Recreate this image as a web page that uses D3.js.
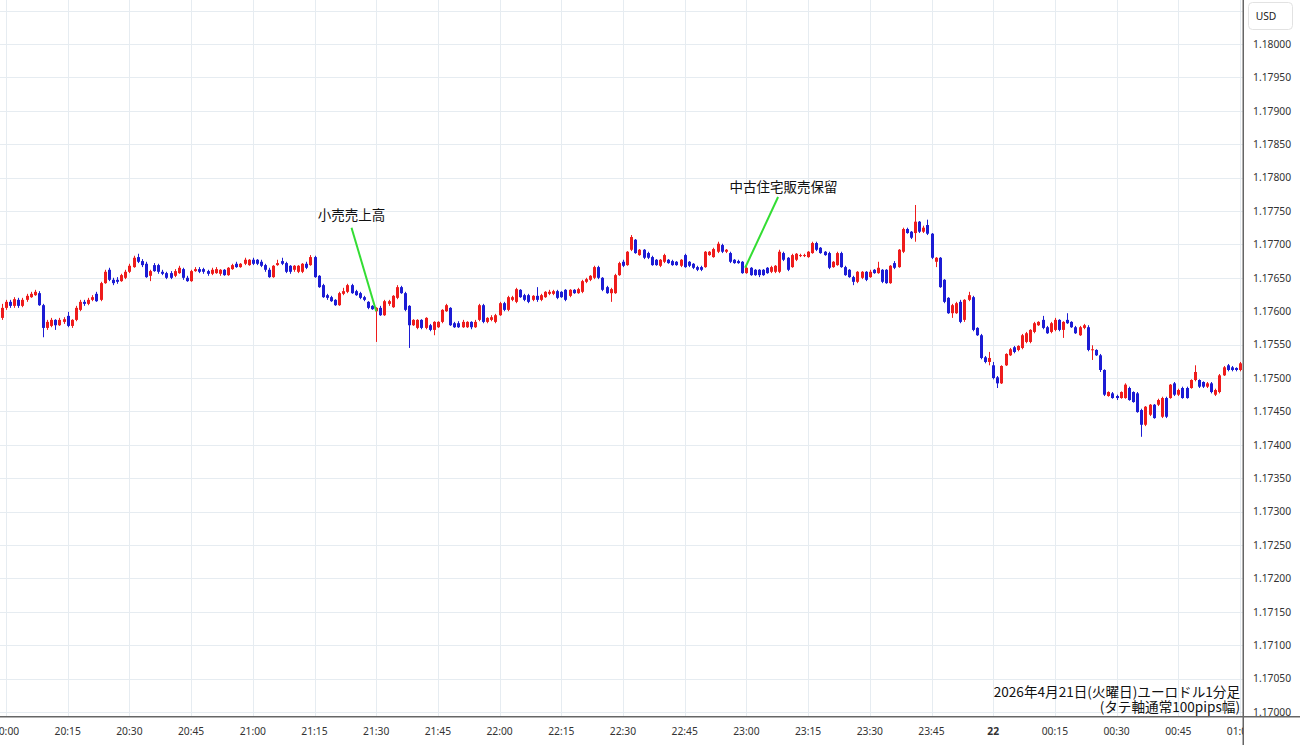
<!DOCTYPE html>
<html><head><meta charset="utf-8">
<script src="https://cdn.jsdelivr.net/npm/d3@7"></script>
<style>body{margin:0;background:#fff;}svg{display:block;}</style>
</head><body>
<svg id="chart" width="1300" height="745"></svg>
<script>
// EUR/USD 1-minute candles, 2026-04-21, first candle = 19:59, then one per minute
const firstMinute = -1; // minutes after 20:00 of the first candle
const opens = [1.17590,1.17605,1.17614,1.17608,1.17617,1.17608,1.17617,1.17621,1.17624,1.17627,
1.17609,1.17575,1.17578,1.17587,1.17579,1.17584,1.17593,1.17578,1.17587,1.17602,
1.17614,1.17611,1.17617,1.17626,1.17617,1.17642,1.17662,1.17647,1.17647,1.17645,
1.17650,1.17659,1.17666,1.17681,1.17675,1.17671,1.17653,1.17669,1.17669,1.17659,
1.17657,1.17657,1.17653,1.17657,1.17663,1.17650,1.17645,1.17660,1.17663,1.17663,
1.17660,1.17656,1.17657,1.17656,1.17662,1.17654,1.17663,1.17671,1.17666,1.17671,
1.17669,1.17677,1.17677,1.17674,1.17669,1.17662,1.17651,1.17669,1.17675,1.17672,
1.17668,1.17662,1.17659,1.17659,1.17671,1.17669,1.17681,1.17653,1.17639,1.17624,
1.17621,1.17617,1.17609,1.17626,1.17629,1.17639,1.17630,1.17627,1.17621,1.17614,
1.17608,1.17600,1.17605,1.17594,1.17611,1.17606,1.17620,1.17636,1.17627,1.17608,
1.17579,1.17575,1.17587,1.17575,1.17579,1.17572,1.17576,1.17584,1.17600,1.17605,
1.17582,1.17582,1.17576,1.17576,1.17584,1.17576,1.17587,1.17609,1.17584,1.17587,
1.17584,1.17594,1.17612,1.17602,1.17617,1.17614,1.17632,1.17624,1.17624,1.17617,
1.17623,1.17617,1.17621,1.17626,1.17626,1.17630,1.17629,1.17632,1.17623,1.17632,
1.17627,1.17629,1.17644,1.17647,1.17650,1.17666,1.17650,1.17636,1.17627,1.17627,
1.17654,1.17674,1.17669,1.17692,1.17707,1.17684,1.17692,1.17687,1.17681,1.17677,
1.17668,1.17674,1.17677,1.17675,1.17674,1.17668,1.17684,1.17674,1.17671,1.17666,
1.17666,1.17666,1.17684,1.17681,1.17689,1.17699,1.17689,1.17687,1.17677,1.17675,
1.17674,1.17657,1.17665,1.17662,1.17662,1.17662,1.17665,1.17659,1.17659,1.17659,
1.17687,1.17680,1.17666,1.17677,1.17683,1.17683,1.17681,1.17687,1.17702,1.17695,
1.17689,1.17687,1.17666,1.17669,1.17687,1.17666,1.17662,1.17651,1.17644,1.17650,
1.17659,1.17651,1.17662,1.17657,1.17662,1.17662,1.17642,1.17672,1.17666,1.17689,
1.17723,1.17719,1.17717,1.17734,1.17719,1.17729,1.17716,1.17674,1.17680,1.17647,
1.17620,1.17597,1.17597,1.17614,1.17587,1.17617,1.17621,1.17575,1.17564,1.17531,
1.17524,1.17519,1.17501,1.17492,1.17519,1.17534,1.17546,1.17542,1.17545,1.17554,
1.17554,1.17569,1.17579,1.17587,1.17576,1.17569,1.17572,1.17587,1.17572,1.17587,
1.17584,1.17576,1.17564,1.17575,1.17576,1.17542,1.17542,1.17534,1.17512,1.17473,
1.17477,1.17473,1.17470,1.17470,1.17485,1.17479,1.17477,1.17452,1.17430,1.17445,
1.17460,1.17460,1.17442,1.17470,1.17470,1.17492,1.17475,1.17485,1.17485,1.17485,
1.17497,1.17497,1.17494,1.17487,1.17492,1.17475,1.17479,1.17504,1.17519,1.17516,
1.17515,1.17512,1.17519];
const highs = [1.17611,1.17617,1.17617,1.17621,1.17620,1.17620,1.17626,1.17629,1.17632,1.17630,
1.17611,1.17587,1.17590,1.17588,1.17590,1.17591,1.17599,1.17588,1.17608,1.17617,
1.17617,1.17620,1.17624,1.17629,1.17644,1.17662,1.17665,1.17650,1.17651,1.17656,
1.17662,1.17671,1.17683,1.17686,1.17678,1.17674,1.17662,1.17672,1.17671,1.17662,
1.17659,1.17660,1.17663,1.17668,1.17665,1.17653,1.17662,1.17666,1.17666,1.17665,
1.17662,1.17665,1.17666,1.17663,1.17663,1.17666,1.17671,1.17674,1.17672,1.17680,
1.17678,1.17680,1.17678,1.17677,1.17671,1.17665,1.17669,1.17677,1.17680,1.17674,
1.17669,1.17669,1.17669,1.17672,1.17674,1.17684,1.17683,1.17654,1.17641,1.17626,
1.17623,1.17618,1.17629,1.17635,1.17641,1.17641,1.17632,1.17629,1.17623,1.17615,
1.17609,1.17606,1.17608,1.17617,1.17617,1.17624,1.17639,1.17638,1.17629,1.17609,
1.17588,1.17588,1.17588,1.17591,1.17581,1.17585,1.17585,1.17603,1.17611,1.17606,
1.17584,1.17585,1.17587,1.17585,1.17585,1.17587,1.17611,1.17611,1.17591,1.17594,
1.17596,1.17614,1.17614,1.17623,1.17623,1.17635,1.17633,1.17626,1.17626,1.17624,
1.17636,1.17626,1.17630,1.17632,1.17632,1.17632,1.17630,1.17633,1.17633,1.17633,
1.17635,1.17647,1.17650,1.17654,1.17668,1.17668,1.17651,1.17638,1.17635,1.17656,
1.17674,1.17677,1.17690,1.17714,1.17708,1.17693,1.17693,1.17689,1.17683,1.17678,
1.17678,1.17686,1.17678,1.17677,1.17675,1.17678,1.17686,1.17675,1.17672,1.17668,
1.17668,1.17690,1.17690,1.17695,1.17704,1.17701,1.17693,1.17689,1.17678,1.17677,
1.17675,1.17668,1.17666,1.17663,1.17663,1.17663,1.17666,1.17668,1.17669,1.17692,
1.17689,1.17681,1.17686,1.17687,1.17686,1.17686,1.17690,1.17704,1.17704,1.17696,
1.17690,1.17689,1.17675,1.17689,1.17689,1.17668,1.17663,1.17653,1.17660,1.17660,
1.17660,1.17662,1.17663,1.17674,1.17663,1.17663,1.17669,1.17675,1.17693,1.17725,
1.17725,1.17720,1.17759,1.17735,1.17728,1.17737,1.17717,1.17681,1.17681,1.17648,
1.17621,1.17611,1.17614,1.17617,1.17618,1.17629,1.17623,1.17576,1.17566,1.17533,
1.17539,1.17524,1.17503,1.17519,1.17537,1.17545,1.17548,1.17549,1.17566,1.17569,
1.17573,1.17584,1.17585,1.17593,1.17578,1.17584,1.17590,1.17588,1.17585,1.17597,
1.17585,1.17578,1.17578,1.17581,1.17579,1.17549,1.17543,1.17536,1.17513,1.17480,
1.17479,1.17475,1.17480,1.17492,1.17487,1.17480,1.17479,1.17454,1.17458,1.17461,
1.17461,1.17469,1.17472,1.17472,1.17491,1.17494,1.17484,1.17487,1.17487,1.17498,
1.17519,1.17498,1.17495,1.17494,1.17494,1.17484,1.17506,1.17518,1.17521,1.17518,
1.17516,1.17524,1.17527];
const lows = [1.17587,1.17602,1.17605,1.17605,1.17605,1.17606,1.17614,1.17620,1.17623,1.17608,
1.17561,1.17572,1.17576,1.17572,1.17578,1.17581,1.17576,1.17575,1.17585,1.17600,
1.17608,1.17609,1.17615,1.17614,1.17615,1.17641,1.17645,1.17639,1.17641,1.17644,
1.17648,1.17657,1.17665,1.17672,1.17666,1.17650,1.17645,1.17659,1.17656,1.17654,
1.17648,1.17648,1.17651,1.17656,1.17647,1.17644,1.17644,1.17659,1.17657,1.17656,
1.17653,1.17654,1.17656,1.17653,1.17653,1.17653,1.17662,1.17665,1.17665,1.17669,
1.17668,1.17669,1.17669,1.17666,1.17659,1.17650,1.17650,1.17668,1.17669,1.17657,
1.17656,1.17659,1.17657,1.17657,1.17663,1.17668,1.17650,1.17635,1.17620,1.17617,
1.17614,1.17608,1.17608,1.17624,1.17627,1.17626,1.17623,1.17618,1.17615,1.17603,
1.17602,1.17554,1.17593,1.17593,1.17608,1.17605,1.17618,1.17626,1.17600,1.17545,
1.17578,1.17573,1.17573,1.17573,1.17570,1.17564,1.17575,1.17582,1.17599,1.17578,
1.17575,1.17575,1.17575,1.17575,1.17573,1.17575,1.17585,1.17582,1.17582,1.17585,
1.17582,1.17593,1.17600,1.17600,1.17615,1.17612,1.17620,1.17615,1.17612,1.17615,
1.17614,1.17615,1.17620,1.17624,1.17624,1.17618,1.17620,1.17615,1.17621,1.17626,
1.17626,1.17627,1.17642,1.17645,1.17648,1.17648,1.17630,1.17626,1.17614,1.17626,
1.17653,1.17666,1.17668,1.17690,1.17686,1.17683,1.17678,1.17678,1.17668,1.17668,
1.17666,1.17672,1.17671,1.17668,1.17668,1.17666,1.17665,1.17666,1.17663,1.17660,
1.17660,1.17665,1.17683,1.17680,1.17687,1.17687,1.17687,1.17672,1.17671,1.17671,
1.17656,1.17656,1.17653,1.17653,1.17651,1.17653,1.17656,1.17657,1.17657,1.17657,
1.17675,1.17660,1.17665,1.17675,1.17681,1.17681,1.17680,1.17686,1.17690,1.17686,
1.17683,1.17663,1.17665,1.17668,1.17665,1.17653,1.17650,1.17639,1.17642,1.17648,
1.17645,1.17650,1.17656,1.17656,1.17642,1.17641,1.17641,1.17663,1.17665,1.17687,
1.17716,1.17708,1.17704,1.17717,1.17717,1.17714,1.17678,1.17666,1.17635,1.17612,
1.17596,1.17590,1.17596,1.17582,1.17584,1.17615,1.17570,1.17563,1.17528,1.17522,
1.17519,1.17498,1.17485,1.17491,1.17518,1.17533,1.17537,1.17540,1.17543,1.17552,
1.17552,1.17567,1.17578,1.17573,1.17566,1.17567,1.17570,1.17570,1.17560,1.17581,
1.17575,1.17566,1.17563,1.17573,1.17540,1.17527,1.17533,1.17509,1.17473,1.17472,
1.17469,1.17467,1.17469,1.17469,1.17466,1.17463,1.17448,1.17412,1.17428,1.17443,
1.17439,1.17458,1.17440,1.17440,1.17469,1.17473,1.17473,1.17469,1.17469,1.17484,
1.17495,1.17485,1.17485,1.17485,1.17477,1.17473,1.17477,1.17503,1.17510,1.17510,
1.17510,1.17510,1.17518];
const closes = [1.17605,1.17614,1.17608,1.17618,1.17608,1.17617,1.17623,1.17626,1.17629,1.17609,
1.17575,1.17584,1.17587,1.17579,1.17587,1.17588,1.17578,1.17587,1.17605,1.17614,
1.17611,1.17617,1.17621,1.17615,1.17642,1.17659,1.17647,1.17642,1.17644,1.17654,
1.17659,1.17668,1.17680,1.17674,1.17669,1.17651,1.17660,1.17660,1.17659,1.17656,
1.17650,1.17650,1.17660,1.17665,1.17650,1.17645,1.17660,1.17663,1.17659,1.17659,
1.17656,1.17662,1.17663,1.17662,1.17654,1.17665,1.17669,1.17666,1.17671,1.17677,
1.17677,1.17671,1.17671,1.17668,1.17662,1.17651,1.17668,1.17672,1.17671,1.17659,
1.17659,1.17668,1.17668,1.17671,1.17665,1.17681,1.17651,1.17636,1.17621,1.17620,
1.17615,1.17609,1.17627,1.17630,1.17639,1.17627,1.17624,1.17620,1.17617,1.17605,
1.17603,1.17605,1.17594,1.17615,1.17615,1.17623,1.17636,1.17627,1.17602,1.17579,
1.17587,1.17587,1.17575,1.17590,1.17572,1.17584,1.17584,1.17602,1.17609,1.17579,
1.17576,1.17576,1.17584,1.17584,1.17576,1.17584,1.17609,1.17584,1.17590,1.17591,
1.17594,1.17612,1.17602,1.17621,1.17621,1.17633,1.17621,1.17617,1.17614,1.17623,
1.17617,1.17624,1.17629,1.17629,1.17630,1.17620,1.17621,1.17617,1.17632,1.17627,
1.17633,1.17645,1.17648,1.17653,1.17666,1.17650,1.17632,1.17627,1.17633,1.17654,
1.17672,1.17668,1.17689,1.17711,1.17687,1.17692,1.17680,1.17680,1.17669,1.17669,
1.17677,1.17684,1.17672,1.17669,1.17669,1.17677,1.17666,1.17668,1.17665,1.17662,
1.17662,1.17689,1.17689,1.17693,1.17701,1.17689,1.17692,1.17674,1.17672,1.17672,
1.17657,1.17665,1.17654,1.17654,1.17654,1.17654,1.17657,1.17666,1.17668,1.17689,
1.17677,1.17662,1.17684,1.17686,1.17684,1.17684,1.17689,1.17702,1.17692,1.17687,
1.17684,1.17665,1.17674,1.17687,1.17666,1.17654,1.17651,1.17644,1.17659,1.17659,
1.17647,1.17659,1.17657,1.17665,1.17644,1.17642,1.17668,1.17665,1.17692,1.17723,
1.17717,1.17710,1.17734,1.17719,1.17725,1.17716,1.17680,1.17680,1.17636,1.17614,
1.17597,1.17609,1.17612,1.17584,1.17617,1.17624,1.17572,1.17564,1.17530,1.17524,
1.17530,1.17500,1.17492,1.17518,1.17536,1.17543,1.17539,1.17548,1.17564,1.17567,
1.17572,1.17582,1.17584,1.17575,1.17567,1.17582,1.17587,1.17572,1.17584,1.17582,
1.17576,1.17567,1.17576,1.17579,1.17542,1.17543,1.17534,1.17512,1.17475,1.17479,
1.17470,1.17470,1.17479,1.17490,1.17467,1.17464,1.17449,1.17430,1.17457,1.17460,
1.17440,1.17467,1.17470,1.17442,1.17490,1.17475,1.17482,1.17470,1.17470,1.17497,
1.17509,1.17487,1.17487,1.17492,1.17479,1.17482,1.17504,1.17516,1.17512,1.17512,
1.17512,1.17522,1.17524];

const xTickLabels = ["20:00","20:15","20:30","20:45","21:00","21:15","21:30","21:45","22:00","22:15","22:30","22:45","23:00","23:15","23:30","23:45","22","00:15","00:30","00:45","01:00"];
const xTickStep = 15; // minutes between labels
const yTickValues = [1.17000,1.17050,1.17100,1.17150,1.17200,1.17250,1.17300,1.17350,1.17400,1.17450,1.17500,1.17550,1.17600,1.17650,1.17700,1.17750,1.17800,1.17850,1.17900,1.17950,1.18000];
const yGridExtra = [1.18050];
const annotationTexts = ["小売売上高","中古住宅販売保留"];
const annotationTextPos = [[84,1.17737],[189,1.17778]];      // [minute, price]
const annotationLineFrom = [[84,1.17725],[187.7,1.17771]];
const annotationLineTo = [[90,1.17600],[179.7,1.17665]];
const captionLines = ["2026年4月21日(火曜日)ユーロドル1分足","(タテ軸通常100pips幅)"];

const plotRight = 1243, plotBottom = 717;
const svg = d3.select("#chart");
const x = d3.scaleLinear().domain([0,300]).range([6,1240]);
const y = d3.scaleLinear().domain([1.17,1.18]).range([712,44]);
const gridColor = "#e6ecf1";
const textFont = "'Noto Sans','Open Sans',sans-serif";

const defs = svg.append("defs");
defs.append("clipPath").attr("id","plotClip").append("rect").attr("x",0).attr("y",0).attr("width",plotRight).attr("height",plotBottom);
defs.append("clipPath").attr("id","xClip").append("rect").attr("x",0).attr("y",plotBottom).attr("width",plotRight).attr("height",745-plotBottom);

svg.append("rect").attr("width",1300).attr("height",745).attr("fill","#fff");

// grid
const grid = svg.append("g").attr("clip-path","url(#plotClip)");
grid.selectAll("line.h").data(yTickValues.concat(yGridExtra)).join("line")
  .attr("x1",0).attr("x2",plotRight)
  .attr("y1",d=>Math.round(y(d))+0.5).attr("y2",d=>Math.round(y(d))+0.5)
  .attr("stroke",gridColor).attr("stroke-width",1);
const xTickMinutes = xTickLabels.map((_,i)=>i*xTickStep);
grid.selectAll("line.v").data(xTickMinutes).join("line")
  .attr("y1",0).attr("y2",plotBottom)
  .attr("x1",d=>Math.round(x(d))+0.5).attr("x2",d=>Math.round(x(d))+0.5)
  .attr("stroke",gridColor).attr("stroke-width",1);

// candles
const candles = opens.map((o,i)=>({m:firstMinute+i,o,h:highs[i],l:lows[i],c:closes[i]}));
const cg = svg.append("g").attr("clip-path","url(#plotClip)");
const up = "#ee1c1c", down = "#1c1cd4";
const col = d => d.c >= d.o ? up : down;
cg.selectAll("line.wick").data(candles).join("line")
  .attr("x1",d=>Math.round(x(d.m))+0.5).attr("x2",d=>Math.round(x(d.m))+0.5)
  .attr("y1",d=>y(d.h)).attr("y2",d=>y(d.l))
  .attr("stroke",col).attr("stroke-width",1);
cg.selectAll("rect.body").data(candles).join("rect")
  .attr("x",d=>Math.round(x(d.m))-1).attr("width",3)
  .attr("y",d=>Math.min(y(d.o),y(d.c)))
  .attr("height",d=>Math.max(1,Math.abs(y(d.o)-y(d.c))))
  .attr("fill",col);

// annotations
const ag = svg.append("g");
annotationTexts.forEach((t,i)=>{
  ag.append("line")
    .attr("x1",x(annotationLineFrom[i][0])).attr("y1",y(annotationLineFrom[i][1]))
    .attr("x2",x(annotationLineTo[i][0])).attr("y2",y(annotationLineTo[i][1]))
    .attr("stroke","#33dd33").attr("stroke-width",2);
  ag.append("text").attr("x",x(annotationTextPos[i][0])).attr("y",y(annotationTextPos[i][1]))
    .attr("text-anchor","middle").attr("font-family","'Noto Sans CJK JP',sans-serif")
    .attr("font-size",13.5).attr("fill","#111").text(t);
});

// caption
svg.append("g").selectAll("text").data(captionLines).join("text")
  .attr("x",1240).attr("y",(d,i)=>697+i*14.5)
  .attr("text-anchor","end").attr("font-family","'Noto Sans CJK JP',sans-serif")
  .attr("font-size",13.6).attr("fill","#111").text(d=>d);

// axes lines
svg.append("line").attr("x1",0).attr("x2",1300).attr("y1",plotBottom-0.25).attr("y2",plotBottom-0.25)
  .attr("stroke","#666").attr("stroke-width",1.5);
svg.append("line").attr("x1",plotRight+0.25).attr("x2",plotRight+0.25).attr("y1",0).attr("y2",745)
  .attr("stroke","#666").attr("stroke-width",1.5);

// x labels
const xg = svg.append("g").attr("clip-path","url(#xClip)");
xg.selectAll("text").data(xTickLabels).join("text")
  .attr("x",(d,i)=>x(xTickMinutes[i])).attr("y",735)
  .attr("text-anchor","middle").attr("font-family",textFont).attr("font-size",10.3)
  .attr("font-weight",d=>d==="22"?700:400)
  .attr("fill","#333").text(d=>d);

// y labels
svg.append("g").selectAll("text").data(yTickValues).join("text")
  .attr("x",1253).attr("y",d=>y(d)+3.7)
  .attr("font-family",textFont).attr("font-size",10.3).attr("fill","#333")
  .text(d=>d.toFixed(5));

// currency box
svg.append("rect").attr("x",1248.5).attr("y",2.5).attr("width",44).attr("height",27).attr("rx",4)
  .attr("fill","#fff").attr("stroke","#e2e2e2");
svg.append("text").attr("x",1266).attr("y",20).attr("text-anchor","middle")
  .attr("font-family",textFont).attr("font-size",10.3).attr("fill","#222").text("USD");
</script>
</body></html>
